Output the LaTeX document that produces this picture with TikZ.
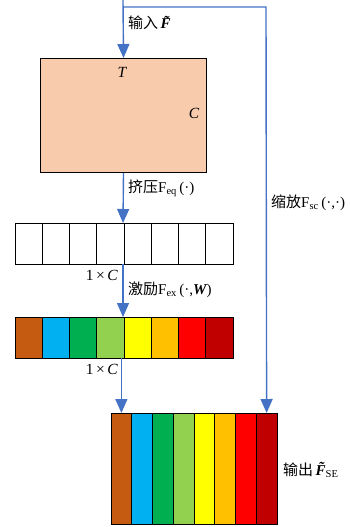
\documentclass[tikz,border=0pt]{standalone}
\usepackage{fontspec}
\setmainfont{Liberation Serif}
\newfontfamily\cjk{Noto Sans CJK SC}
\usetikzlibrary{arrows.meta}
\definecolor{arrowblue}{HTML}{4472C4}
\definecolor{peach}{HTML}{F8CBAD}
\definecolor{c1}{HTML}{C55A11}
\definecolor{c2}{HTML}{00B0F0}
\definecolor{c3}{HTML}{00B050}
\definecolor{c4}{HTML}{92D050}
\definecolor{c5}{HTML}{FFFF00}
\definecolor{c6}{HTML}{FFC000}
\definecolor{c7}{HTML}{FF0000}
\definecolor{c8}{HTML}{C00000}
\begin{document}
\begin{tikzpicture}[x=1pt,y=-1pt,
  cell/.style={draw=black, line width=1pt, minimum width=27.25pt, minimum height=41pt, inner sep=0pt, outer sep=0pt, anchor=north west},
  barcell/.style={draw=black, line width=1pt, minimum width=20.75pt, minimum height=111pt, inner sep=0pt, outer sep=0pt, anchor=north west},
  arr/.style={draw=arrowblue, line width=1.4pt, -{Triangle[length=14pt,width=12pt]}},
  lbl/.style={inner sep=0pt, anchor=west, font=\fontsize{15}{17}\selectfont},
  mlbl/.style={inner sep=0pt, font=\fontsize{15.5}{17}\selectfont}
]
\newcommand\cj[1]{{\cjk\fontsize{15}{17}\selectfont #1}}
\newcommand\tF{{\bfseries\itshape F̃}}
\useasboundingbox (0,0) rectangle (350,527);
% input box
\node[draw=black, line width=1pt, fill=peach, minimum width=166pt, minimum height=114pt, inner sep=0pt, anchor=north west] (F) at (40,58) {};
\node[mlbl] (T) at (122,72) {\itshape T};
\node[mlbl] (Cc) at (194,113) {\itshape C};
% squeezed row
\foreach \i in {1,...,8} {
  \node[cell] (s\i) at ({15+(\i-1)*27.25},223) {};
}
\coordinate (stop) at (123,223);
\node[mlbl, anchor=east] (d1) at (118,275) {1\,×\,\itshape C};
% excited row
\foreach \i/\c in {1/c1,2/c2,3/c3,4/c4,5/c5,6/c6,7/c7,8/c8} {
  \node[cell, fill=\c] (e\i) at ({15+(\i-1)*27.25},317) {};
}
\coordinate (etop) at (123,317);
\coordinate (ebot) at (123,358);
\node[mlbl, anchor=east] (d2) at (118,369) {1\,×\,\itshape C};
% output bars
\foreach \i/\c in {1/c1,2/c2,3/c3,4/c4,5/c5,6/c6,7/c7,8/c8} {
  \node[barcell, fill=\c] (o\i) at ({111+(\i-1)*20.75},413) {};
}
% connectors
\coordinate (in) at (123,0);
\coordinate (corner) at (266,7);
\draw[arr] (in) -- (F.north);
\draw[arr] (in |- corner) -- (corner) -- (o8.north);
\draw[arr] (F.south) -- (stop);
\draw[arr] (stop |- s1.south) -- (etop);
\draw[arr] (o1.north |- ebot) -- (o1.north);
% labels
\node[lbl] (l1) at (128,23) {\cj{输入}\,\tF};
\node[lbl] (l2) at (128,188) {\cj{挤压}F\textsubscript{eq}\,(\textperiodcentered)};
\node[lbl] (l3) at (128,290) {\cj{激励}F\textsubscript{ex}\,(\textperiodcentered,{\bfseries\itshape W})};
\node[lbl] (l4) at (271,203) {\cj{缩放}F\textsubscript{sc}\,(\textperiodcentered,\textperiodcentered)};
\node[lbl] (l5) at (283,470) {\cj{输出}\,\tF\textsubscript{SE}};
\end{tikzpicture}
\end{document}
